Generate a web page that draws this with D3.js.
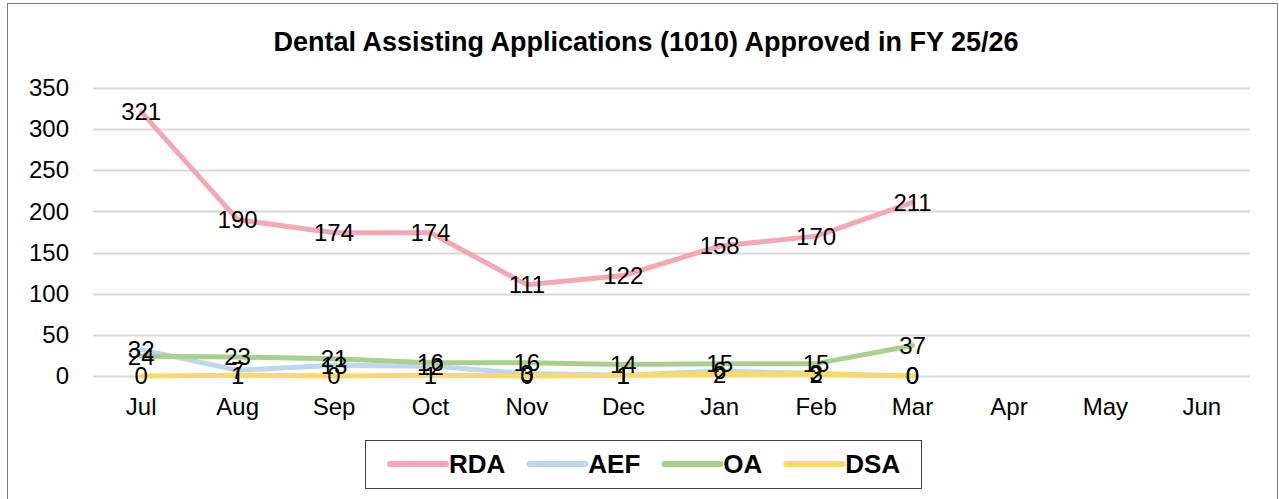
<!DOCTYPE html>
<html>
<head>
<meta charset="utf-8">
<script src="https://cdn.jsdelivr.net/npm/d3@7"></script>
<style>
  body { margin: 0; background: #fff; }
  svg { display: block; font-family: "Liberation Sans", Arial, sans-serif; }
</style>
</head>
<body>
<div id="chart"></div>
<script>
// data
const months = ["Jul", "Aug", "Sep", "Oct", "Nov", "Dec", "Jan", "Feb", "Mar", "Apr", "May", "Jun"];
const rda = [321, 190, 174, 174, 111, 122, 158, 170, 211];
const aef = [32, 7, 13, 12, 3, 1, 6, 3, 0];
const oa = [24, 23, 21, 16, 16, 14, 15, 15, 37];
const dsa = [0, 1, 0, 1, 0, 1, 2, 2, 0];
const yTicks = [0, 50, 100, 150, 200, 250, 300, 350];

const series = [
  { name: "RDA", values: rda, color: "#f4a7b5" },
  { name: "AEF", values: aef, color: "#bdd7ee" },
  { name: "OA", values: oa, color: "#a9d18e" },
  { name: "DSA", values: dsa, color: "#ffd966" }
];

const W = 1279, H = 499;
const svg = d3.select("#chart").append("svg")
  .attr("width", W)
  .attr("height", H);

// chart border
svg.append("rect")
  .attr("x", 7.5).attr("y", 3.5)
  .attr("width", 1270).attr("height", 510)
  .attr("fill", "#fff")
  .attr("stroke", "#808080")
  .attr("stroke-width", 1);

svg.append("text")
  .attr("x", 646)
  .attr("y", 51)
  .attr("text-anchor", "middle")
  .attr("font-size", 27)
  .attr("font-weight", "bold")
  .text("Dental Assisting Applications (1010) Approved in FY 25/26");

const x = d3.scaleBand().domain(months).range([93, 1250]).padding(0);
const y = d3.scaleLinear().domain([0, 350]).range([376, 88]);

// gridlines
svg.append("g")
  .selectAll("line")
  .data(yTicks)
  .enter().append("line")
  .attr("x1", 93).attr("x2", 1250)
  .attr("y1", d => Math.round(y(d)) + 0.5)
  .attr("y2", d => Math.round(y(d)) + 0.5)
  .attr("stroke", "#d9d9d9")
  .attr("stroke-width", 2);

// y axis labels
const yAxis = svg.append("g")
  .attr("transform", "translate(69,0)")
  .call(d3.axisLeft(y).tickValues(yTicks).tickSize(0).tickPadding(0));
yAxis.select(".domain").remove();
yAxis.selectAll("text")
  .attr("font-size", 24)
  .attr("font-family", "Liberation Sans, Arial, sans-serif")
  .attr("fill", "#000");

// x axis labels
const xAxis = svg.append("g")
  .attr("transform", "translate(0,398)")
  .call(d3.axisBottom(x).tickSize(0).tickPadding(0));
xAxis.select(".domain").remove();
xAxis.selectAll("text")
  .attr("font-size", 24)
  .attr("font-family", "Liberation Sans, Arial, sans-serif")
  .attr("fill", "#000");

const cx = (d, i) => x(months[i]) + x.bandwidth() / 2;

const line = d3.line()
  .x(cx)
  .y(d => y(d));

// lines
svg.append("g")
  .selectAll("path")
  .data(series)
  .enter().append("path")
  .attr("d", s => line(s.values))
  .attr("fill", "none")
  .attr("stroke", s => s.color)
  .attr("stroke-width", 5)
  .attr("stroke-linejoin", "round")
  .attr("stroke-linecap", "round");

// data labels, centered on the points
series.forEach(s => {
  svg.append("g")
    .selectAll("text")
    .data(s.values)
    .enter().append("text")
    .attr("x", cx)
    .attr("y", d => y(d))
    .attr("dy", "0.35em")
    .attr("text-anchor", "middle")
    .attr("font-size", 24)
    .attr("fill", "#000")
    .text(d => d);
});

// legend
const legend = svg.append("g");
legend.append("rect")
  .attr("x", 365.5).attr("y", 440.5)
  .attr("width", 556).attr("height", 48)
  .attr("fill", "#fff")
  .attr("stroke", "#404040")
  .attr("stroke-width", 1);

let lx = 390;
series.forEach(s => {
  legend.append("line")
    .attr("x1", lx).attr("x2", lx + 56)
    .attr("y1", 464).attr("y2", 464)
    .attr("stroke", s.color)
    .attr("stroke-width", 6)
    .attr("stroke-linecap", "round");
  const t = legend.append("text")
    .attr("x", lx + 59)
    .attr("y", 464)
    .attr("dy", "0.35em")
    .attr("font-size", 26)
    .attr("font-weight", "bold")
    .text(s.name);
  lx += 59 + t.node().getComputedTextLength() + 24;
});
</script>
</body>
</html>
